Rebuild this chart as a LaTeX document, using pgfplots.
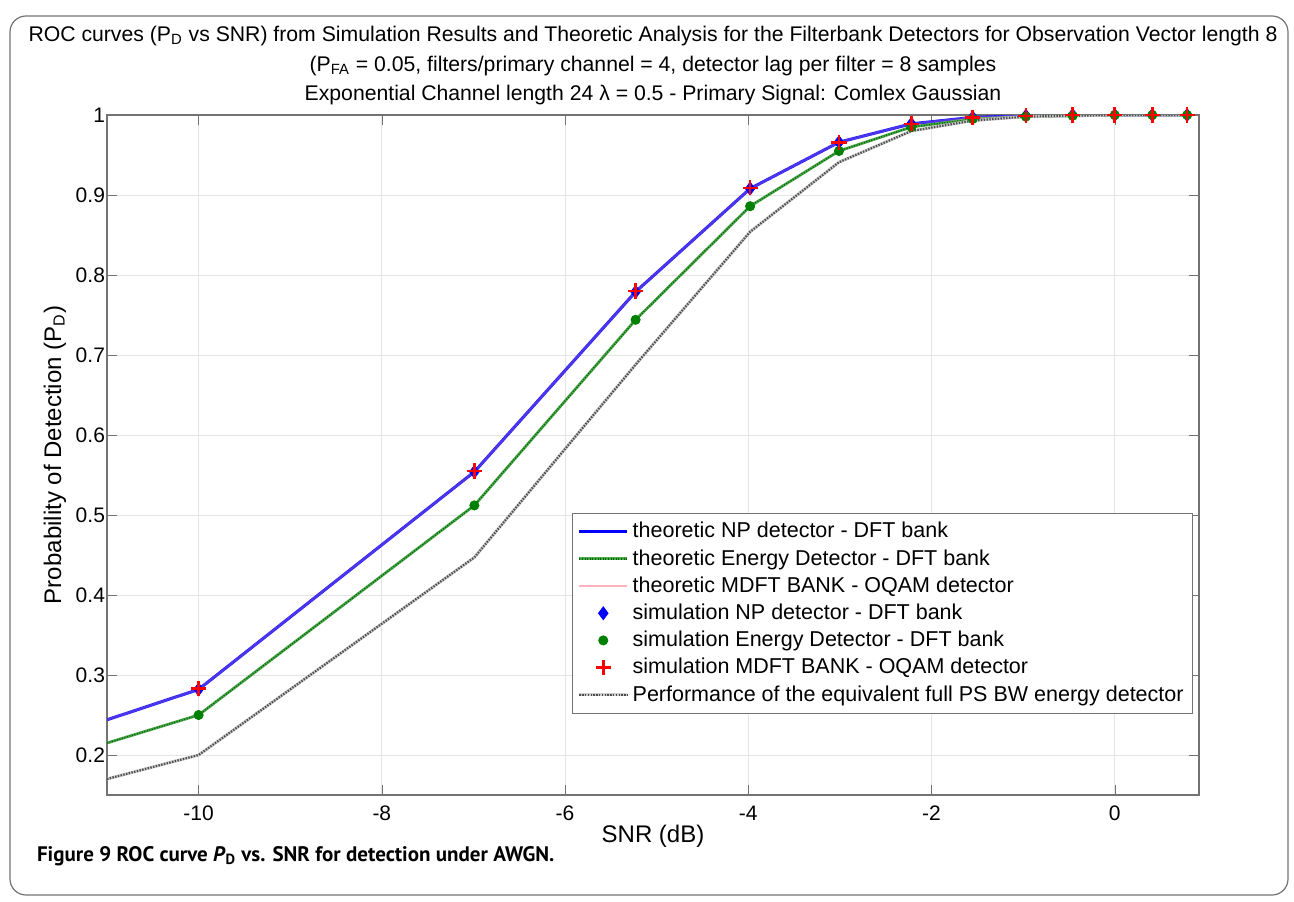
\documentclass[border=0pt]{standalone}
\usepackage{fontspec}
\setmainfont{Liberation Sans}
\newfontfamily\capfont{PT Sans}
\usepackage{pgfplots}
\pgfplotsset{compat=1.18}
\definecolor{mlgreen}{rgb}{0.0,0.5,0.0}
\definecolor{edgreen}{rgb}{0.30,0.65,0.30}
\definecolor{mdpink}{rgb}{1.0,0.70,0.74}
\definecolor{axgray}{rgb}{0.45,0.45,0.45}
\pgfplotsset{
  legend image code/.code={\draw[mark repeat=2,mark phase=2,#1] plot coordinates {(0cm,0cm) (0.42cm,0cm) (0.84cm,0cm)};},
}
\begin{document}
\begin{tikzpicture}
\useasboundingbox (0,0) rectangle (647pt,450.5pt);
\draw[axgray, line width=0.6pt, rounded corners=8pt] (5pt,3pt) rectangle (644pt,442.5pt);
\node[font=\fontsize{10.6}{12}\selectfont] at (326.5pt,432.5pt) {ROC curves (P\textsubscript{D} vs SNR) from Simulation Results and Theoretic Analysis for the Filterbank Detectors for Observation Vector length 8};
\node[font=\fontsize{10.6}{12}\selectfont] at (326.5pt,417.5pt) {(P\textsubscript{FA} = 0.05, filters/primary channel = 4, detector lag per filter = 8 samples};
\node[font=\fontsize{10.6}{12}\selectfont] at (326.5pt,403pt) {Exponential Channel length 24 λ = 0.5 - Primary Signal: Comlex Gaussian};
\node[anchor=west, font=\capfont\bfseries\fontsize{10.5}{12}\selectfont] at (15pt,22.5pt) {Figure 9 ROC curve \textit{P}\textsubscript{D} vs. SNR for detection under AWGN.};
\begin{axis}[
  at={(53.5pt,53pt)}, anchor=south west,
  scale only axis, width=546pt, height=340pt,
  xmin=-11, xmax=0.92, ymin=0.15, ymax=1,
  xtick={-10,-8,-6,-4,-2,0}, ytick={0.2,0.3,0.4,0.5,0.6,0.7,0.8,0.9,1},
  grid=major, major grid style={gray!20, line width=0.4pt},
  tick align=inside, major tick length=5pt,
  axis line style={axgray, line width=0.6pt}, tick style={axgray},
  /pgf/number format/assume math mode=true,
  tick label style={font=\fontsize{10.5}{12}\selectfont},
  xticklabel style={yshift=-2pt},
  yticklabel style={xshift=2.5pt},
  label style={font=\fontsize{12}{14}\selectfont},
  xlabel={SNR (dB)}, ylabel={Probability of Detection (P\textsubscript{D})},
  xlabel style={yshift=5pt}, ylabel style={yshift=-2pt},
  legend style={at={(0.9945,0.4147)}, anchor=north east, draw=axgray,
    font=\fontsize{10.75}{12}\selectfont, legend cell align=left, row sep=0.3pt,
    inner sep=2.5pt},
]
% theoretic NP detector
\addplot[blue, line width=1.5pt] coordinates {
 (-11,0.244) (-10,0.282) (-6.99,0.554) (-5.23,0.779) (-3.98,0.908) (-3.01,0.966)
 (-2.22,0.989) (-1.55,0.997) (-0.97,0.999) (-0.46,1.0) (0,1.0) (0.41,1.0) (0.79,1.0)};
\addlegendentry{theoretic NP detector - DFT bank}
% theoretic energy detector
\addplot[edgreen, line width=1.4pt,
  postaction={draw, mlgreen!80!black, line width=0.7pt, dash pattern=on 0.5pt off 0.8pt}] coordinates {
 (-11,0.215) (-10,0.250) (-6.99,0.512) (-5.23,0.744) (-3.98,0.886) (-3.01,0.955)
 (-2.22,0.985) (-1.55,0.995) (-0.97,0.998) (-0.46,0.999) (0,1.0) (0.41,1.0) (0.79,1.0)};
\addlegendentry{theoretic Energy Detector - DFT bank}
% theoretic MDFT bank
\addplot[mdpink, line width=1.2pt, opacity=0.3,
  legend image post style={opacity=1, line width=1pt}] coordinates {
 (-11,0.244) (-10,0.282) (-6.99,0.554) (-5.23,0.779) (-3.98,0.908) (-3.01,0.966)
 (-2.22,0.989) (-1.55,0.997) (-0.97,0.999) (-0.46,1.0) (0,1.0) (0.41,1.0) (0.79,1.0)};
\addlegendentry{theoretic MDFT BANK - OQAM detector}
% simulation NP
\addplot[only marks, blue, mark=diamond*, mark size=3.2pt] coordinates {
 (-10,0.282) (-6.99,0.554) (-5.23,0.779) (-3.98,0.908) (-3.01,0.966)
 (-2.22,0.989) (-1.55,0.997) (-0.97,0.999) (-0.46,1.0) (0,1.0) (0.41,1.0) (0.79,1.0)};
\addlegendentry{simulation NP detector - DFT bank}
% simulation energy
\addplot[only marks, mlgreen, mark=*, mark size=2.3pt] coordinates {
 (-10,0.250) (-6.99,0.512) (-5.23,0.744) (-3.98,0.886) (-3.01,0.955)
 (-2.22,0.985) (-1.55,0.995) (-0.97,0.998) (-0.46,0.999) (0,1.0) (0.41,1.0) (0.79,1.0)};
\addlegendentry{simulation Energy Detector - DFT bank}
% simulation MDFT
\addplot[only marks, red, mark=+, mark size=3.8pt, line width=1.3pt] coordinates {
 (-10,0.283) (-6.99,0.555) (-5.23,0.780) (-3.98,0.909) (-3.01,0.966)
 (-2.22,0.989) (-1.55,0.997) (-0.97,0.999) (-0.46,1.0) (0,1.0) (0.41,1.0) (0.79,1.0)};
\addlegendentry{simulation MDFT BANK - OQAM detector}
% full band energy detector
\addplot[gray!40, line width=1.5pt,
  postaction={draw, black!70, line width=1.1pt, dash pattern=on 0.7pt off 0.7pt}] coordinates {
 (-11,0.170) (-10,0.200) (-6.99,0.447) (-5.23,0.688) (-3.98,0.854) (-3.01,0.941)
 (-2.22,0.980) (-1.55,0.993) (-0.97,0.998) (-0.46,0.999) (0,1.0) (0.41,1.0) (0.79,1.0)};
\addlegendentry{Performance of the equivalent full PS BW energy detector}
\end{axis}
\end{tikzpicture}
\end{document}
